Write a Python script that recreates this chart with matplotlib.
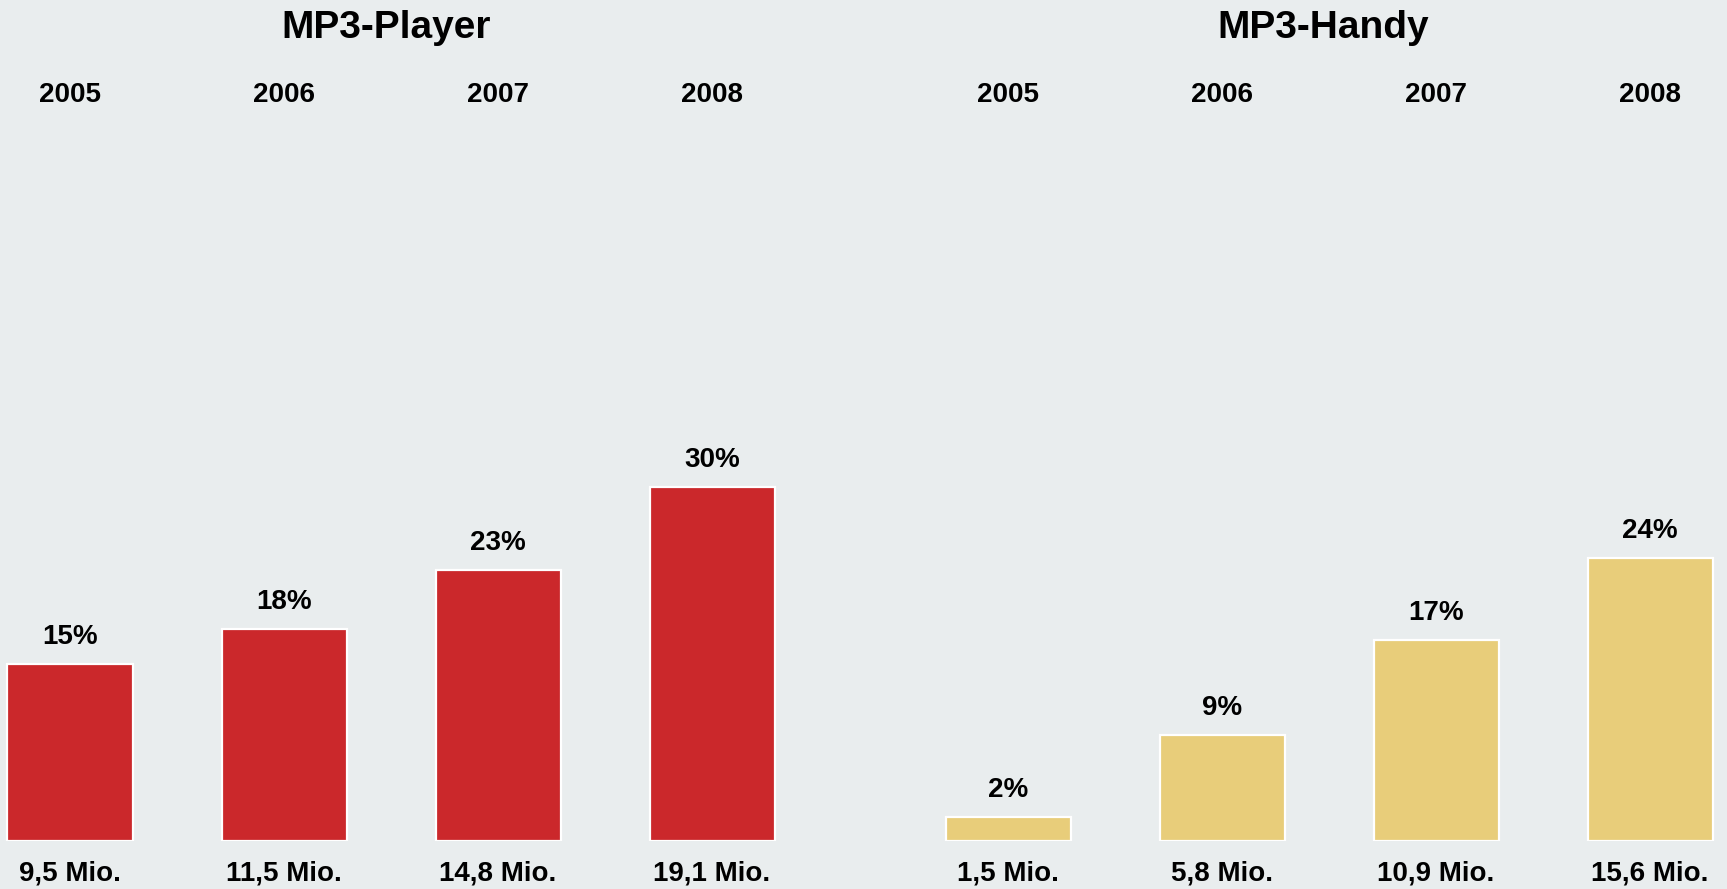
import matplotlib
matplotlib.use("Agg")
import matplotlib.pyplot as plt
from matplotlib.transforms import blended_transform_factory

# ---- data ----
years = ["2005", "2006", "2007", "2008"]
player_pct = [15, 18, 23, 30]
player_mio = [9.5, 11.5, 14.8, 19.1]
handy_pct = [2, 9, 17, 24]
handy_mio = [1.5, 5.8, 10.9, 15.6]
titles = ["MP3-Player", "MP3-Handy"]

# ---- style ----
BG = "#E9EDEE"
RED = "#CB282B"
YELLOW = "#E8CD7A"
FONT = "Liberation Sans"

W, H = 1727, 889
DPI = 100
BASE = 840.5          # baseline (px from top)
PX_PER_PCT = 11.77
SPACING = 214.0
BAR_W = 125.0 / SPACING

fig = plt.figure(figsize=(W / DPI, H / DPI), dpi=DPI, facecolor=BG)


def panel(left_px, right_px, first_center_px, pct, mio, color, title):
    ax = fig.add_axes([left_px / W, (H - BASE) / H, (right_px - left_px) / W, BASE / H])
    ax.set_facecolor(BG)
    ax.set_xlim(-(first_center_px - left_px) / SPACING, (right_px - first_center_px) / SPACING)
    ax.set_ylim(0, BASE / PX_PER_PCT)
    ax.axis("off")
    x = list(range(len(years)))
    bars = ax.bar(x, pct, width=BAR_W, color=color, edgecolor="white", linewidth=1.6)
    for xi, p in zip(x, pct):
        ax.annotate(f"{p}%", xy=(xi, p), xytext=(0, 20 * 72 / DPI), textcoords="offset points",
                    ha="center", va="baseline", fontsize=20, fontweight="bold",
                    family=FONT, color="black")
    tr = blended_transform_factory(ax.transData, fig.transFigure)
    for xi, y, m in zip(x, years, mio):
        ax.text(xi, (H - 102) / H, y, transform=tr, ha="center", va="baseline",
                fontsize=20, fontweight="bold", family=FONT, color="black")
        lab = f"{m:.1f}".replace(".", ",") + " Mio."
        ax.text(xi, (H - 880.5) / H, lab, transform=tr, ha="center", va="baseline",
                fontsize=20, fontweight="bold", family=FONT, color="black")
    ax.text(1.475, (H - 38.3) / H, title, transform=tr, ha="center", va="baseline",
            fontsize=28, fontweight="bold", family=FONT, color="black")
    return ax


panel(0, 863, 70, player_pct, player_mio, RED, titles[0])
panel(863, W, 1008, handy_pct, handy_mio, YELLOW, titles[1])

fig.savefig("out.png", dpi=DPI, facecolor=BG)
